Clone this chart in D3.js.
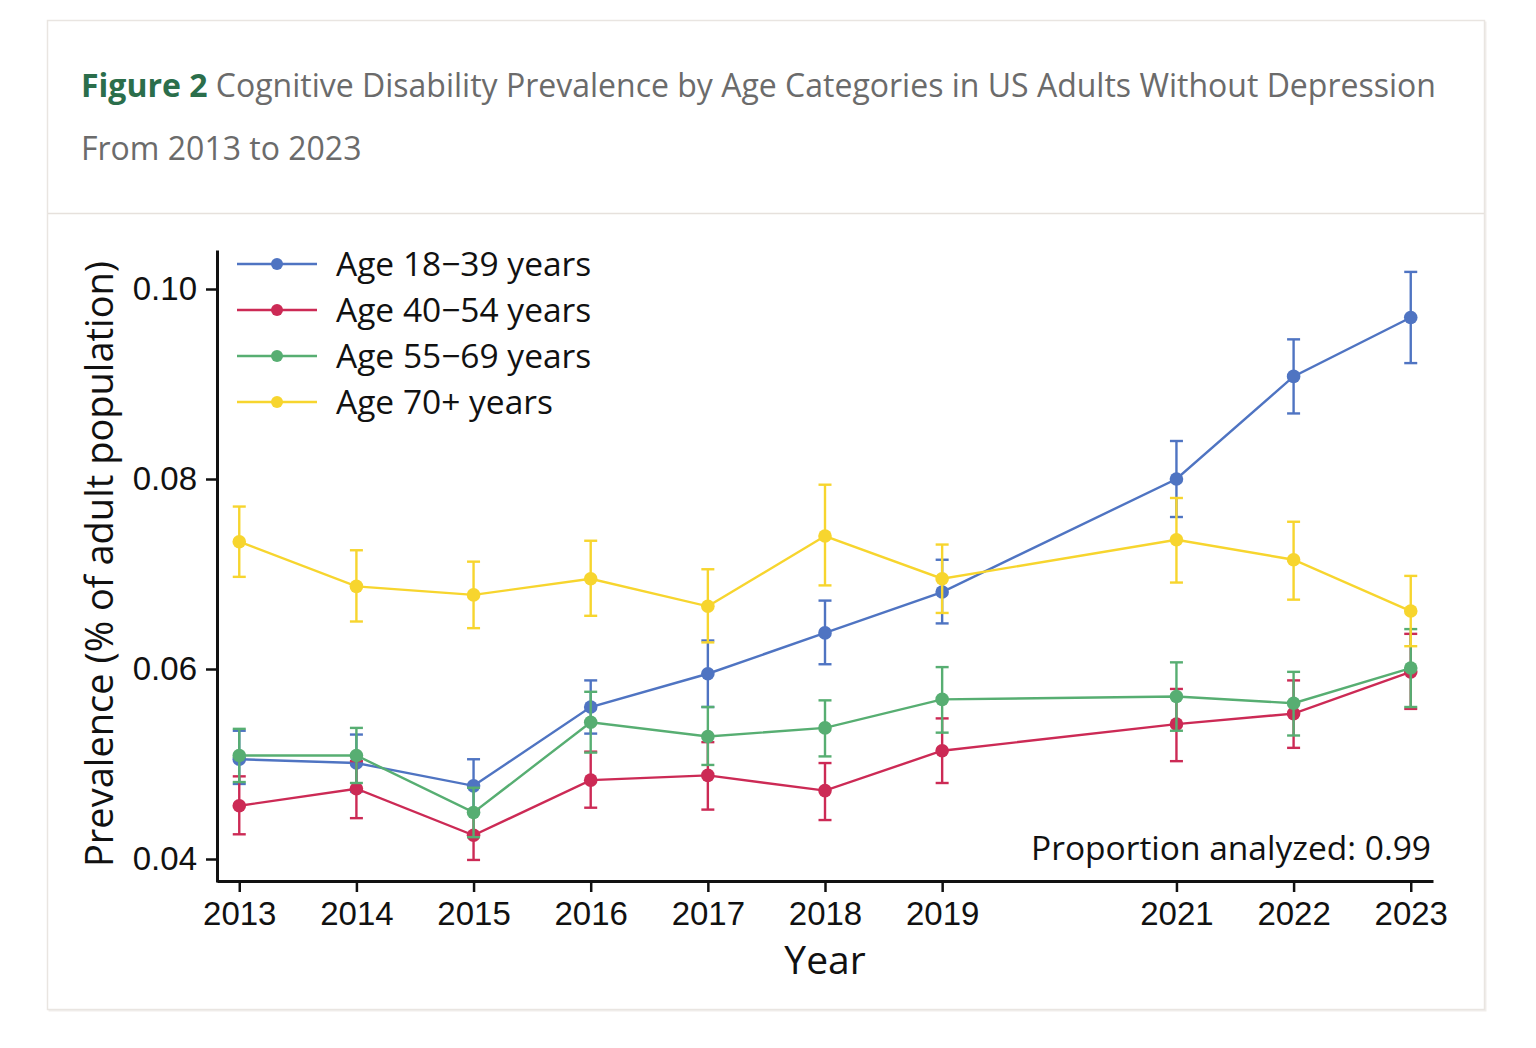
<!DOCTYPE html>
<html>
<head>
<meta charset="utf-8">
<script src="https://cdn.jsdelivr.net/npm/d3@7"></script>
<style>
body { margin:0; background:#fff; font-family:"Open Sans", "Noto Sans", sans-serif; }
</style>
</head>
<body>
<div id="chart"></div>
<script>
// dati
var anni = [2013, 2014, 2015, 2016, 2017, 2018, 2019, 2021, 2022, 2023];
var tickY = [0.04, 0.06, 0.08, 0.10];
var gruppi = ["Age 18\u221239 years", "Age 40\u221254 years", "Age 55\u221269 years", "Age 70+ years"];
var colori = ["#4f74c2", "#cc2a55", "#57ae72", "#f7d52e"];

var stima18 = [0.0505, 0.0501, 0.0477, 0.0560, 0.0595, 0.0638, 0.0681, 0.0800, 0.0908, 0.0970];
var basso18 = [0.0479, 0.0471, 0.0449, 0.0532, 0.0560, 0.0605, 0.0648, 0.0760, 0.0869, 0.0922];
var alto18  = [0.0535, 0.0531, 0.0505, 0.0588, 0.0630, 0.0672, 0.0715, 0.0840, 0.0947, 0.1018];

var stima40 = [0.0456, 0.0474, 0.0425, 0.0483, 0.0488, 0.0472, 0.0514, 0.0542, 0.0553, 0.0597];
var basso40 = [0.0426, 0.0443, 0.0399, 0.0454, 0.0452, 0.0441, 0.0480, 0.0503, 0.0517, 0.0558];
var alto40  = [0.0487, 0.0503, 0.0452, 0.0513, 0.0523, 0.0501, 0.0548, 0.0579, 0.0588, 0.0637];

var stima55 = [0.0509, 0.0509, 0.0449, 0.0544, 0.0529, 0.0538, 0.0568, 0.0571, 0.0564, 0.0601];
var basso55 = [0.0481, 0.0480, 0.0423, 0.0512, 0.0499, 0.0508, 0.0533, 0.0535, 0.0530, 0.0560];
var alto55  = [0.0537, 0.0538, 0.0475, 0.0576, 0.0560, 0.0567, 0.0602, 0.0607, 0.0597, 0.0642];

var stima70 = [0.0734, 0.0687, 0.0678, 0.0695, 0.0666, 0.0740, 0.0695, 0.0736, 0.0715, 0.0661];
var basso70 = [0.0697, 0.0650, 0.0643, 0.0656, 0.0628, 0.0688, 0.0659, 0.0691, 0.0673, 0.0624];
var alto70  = [0.0771, 0.0725, 0.0713, 0.0735, 0.0705, 0.0794, 0.0731, 0.0780, 0.0755, 0.0698];

var serie = [
  {nome: gruppi[0], colore: colori[0], v: stima18, lo: basso18, hi: alto18},
  {nome: gruppi[1], colore: colori[1], v: stima40, lo: basso40, hi: alto40},
  {nome: gruppi[2], colore: colori[2], v: stima55, lo: basso55, hi: alto55},
  {nome: gruppi[3], colore: colori[3], v: stima70, lo: basso70, hi: alto70}
];

var larghezza = 1536, altezza = 1048;
var svg = d3.select("#chart").append("svg")
  .attr("width", larghezza).attr("height", altezza)
  .style("display", "block");

// cornice della figura
svg.append("rect").attr("x", 48.5).attr("y", 21.5).attr("width", 1438).attr("height", 990)
  .attr("fill", "#f1eeeb");
svg.append("rect").attr("x", 47.5).attr("y", 20.5).attr("width", 1437).attr("height", 989)
  .attr("fill", "#fff").attr("stroke", "#e9e5e1").attr("stroke-width", 1.5);
svg.append("line").attr("x1", 48).attr("x2", 1484).attr("y1", 213.5).attr("y2", 213.5)
  .attr("stroke", "#e6e1dc").attr("stroke-width", 1.5);

var titolo = svg.append("text").attr("x", 81).attr("y", 97)
  .style("font-size", "32px").attr("fill", "#6b6b6b");
titolo.append("tspan").attr("font-weight", "bold").attr("fill", "#2b6e4b").text("Figure 2");
titolo.append("tspan").text(" Cognitive Disability Prevalence by Age Categories in US Adults Without Depression");
svg.append("text").attr("x", 81).attr("y", 160)
  .style("font-size", "32px").attr("fill", "#6b6b6b").text("From 2013 to 2023");

// scale
var x = d3.scaleLinear().domain([2012.81, 2023.19]).range([217, 1433]);
var y = d3.scaleLinear().domain([0.04 - 23 / 9500, 0.04 + 609 / 9500]).range([882, 250]);

var assi = svg.append("g").style("font-family", "'Open Sans', 'Noto Sans', sans-serif");

assi.append("g").attr("transform", "translate(0,881)")
  .call(d3.axisBottom(x).tickValues(anni).tickFormat(d3.format("d")).tickSize(11).tickPadding(10).tickSizeOuter(0))
  .call(function(g) {
    g.select(".domain").attr("stroke", "#111").attr("stroke-width", 3);
    g.selectAll(".tick line").attr("stroke", "#111").attr("stroke-width", 2.5);
    g.selectAll(".tick text").attr("fill", "#111").style("font-size", "33px");
  });

assi.append("g").attr("transform", "translate(217,0)")
  .call(d3.axisLeft(y).tickValues(tickY).tickFormat(d3.format(".2f")).tickSize(11).tickPadding(9).tickSizeOuter(0))
  .call(function(g) {
    g.select(".domain").attr("stroke", "#111").attr("stroke-width", 3);
    g.selectAll(".tick line").attr("stroke", "#111").attr("stroke-width", 2.5);
    g.selectAll(".tick text").attr("fill", "#111").style("font-size", "33px");
  });

assi.append("text").attr("x", 825).attr("y", 974).attr("text-anchor", "middle")
  .style("font-size", "39px").attr("fill", "#111").text("Year");
assi.append("text").attr("transform", "translate(113,564) rotate(-90)").attr("text-anchor", "middle")
  .style("font-size", "38px").attr("fill", "#111").text("Prevalence (% of adult population)");
assi.append("text").attr("x", 1431).attr("y", 860).attr("text-anchor", "end")
  .style("font-size", "33.5px").attr("fill", "#111").text("Proportion analyzed: 0.99");

// linee, barre di errore, punti
var linea = d3.line().x(function(d) { return x(d.anno); }).y(function(d) { return y(d.v); });

serie.forEach(function(s) {
  var punti = anni.map(function(a, i) { return {anno: a, v: s.v[i], lo: s.lo[i], hi: s.hi[i]}; });
  var g = svg.append("g");
  g.append("path").datum(punti).attr("d", linea)
    .attr("fill", "none").attr("stroke", s.colore).attr("stroke-width", 2.4);
  var eb = g.selectAll(".eb").data(punti).enter().append("g");
  eb.append("line").attr("x1", function(d) { return x(d.anno); }).attr("x2", function(d) { return x(d.anno); })
    .attr("y1", function(d) { return y(d.lo); }).attr("y2", function(d) { return y(d.hi); })
    .attr("stroke", s.colore).attr("stroke-width", 2.4);
  ["lo", "hi"].forEach(function(k) {
    eb.append("line").attr("x1", function(d) { return x(d.anno) - 6.5; }).attr("x2", function(d) { return x(d.anno) + 6.5; })
      .attr("y1", function(d) { return y(d[k]); }).attr("y2", function(d) { return y(d[k]); })
      .attr("stroke", s.colore).attr("stroke-width", 2.4);
  });
  g.selectAll("circle").data(punti).enter().append("circle")
    .attr("cx", function(d) { return x(d.anno); }).attr("cy", function(d) { return y(d.v); })
    .attr("r", 6.8).attr("fill", s.colore);
});

// legenda
var leg = svg.append("g");
serie.forEach(function(s, i) {
  var yy = 264 + i * 46;
  leg.append("line").attr("x1", 237).attr("x2", 317).attr("y1", yy).attr("y2", yy)
    .attr("stroke", s.colore).attr("stroke-width", 2.4);
  leg.append("circle").attr("cx", 277).attr("cy", yy).attr("r", 6).attr("fill", s.colore);
  leg.append("text").attr("x", 336).attr("y", yy + 12).style("font-size", "33.5px")
    .attr("fill", "#111").text(s.nome);
});
</script>
</body>
</html>
